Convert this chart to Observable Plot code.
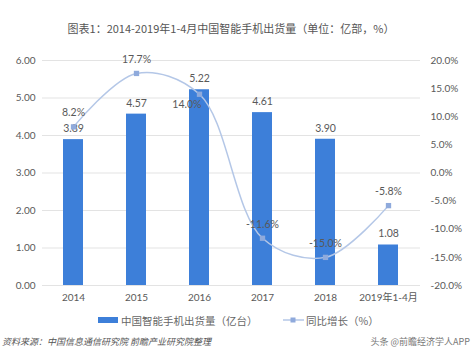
<!DOCTYPE html>
<html>
<head>
<meta charset="utf-8">
<script src="https://cdn.jsdelivr.net/npm/d3@7"></script>
<script src="https://cdn.jsdelivr.net/npm/@observablehq/plot@0.6"></script>
<style>
  html, body { margin: 0; padding: 0; background: #fff; }
  body { width: 476px; height: 363px; position: relative; overflow: hidden;
         font-family: Lato, "Noto Sans CJK SC", sans-serif; color: #595959; }
  #title { position: absolute; left: 0; top: 20px; width: 462px; text-align: center;
           font-size: 11px; color: #555; font-family: "Noto Sans CJK SC", sans-serif; }
  #chart { position: absolute; left: 0; top: 45px; }
  #legend { position: absolute; left: 0; top: 311px; width: 476px; height: 18px; font-size: 10.5px;
            font-family: "Noto Sans CJK SC", sans-serif; color: #666; }
  .lg { position: absolute; top: 0; display: flex; align-items: center; height: 18px; }
  #source { position: absolute; left: 2px; top: 335px; font-size: 9px; font-style: italic;
            color: #555; font-family: "Noto Sans CJK SC", sans-serif; }
  #wm { position: absolute; right: 6px; top: 335px; font-size: 9px; color: #777;
        font-family: "Noto Sans CJK SC", sans-serif; }
</style>
</head>
<body>
<div id="title"></div>
<div id="chart"></div>
<div id="legend">
  <div class="lg" style="left:98px"><span style="display:inline-block;width:20px;height:6px;background:#3d7fd9;margin-right:3px"></span><span id="lg1"></span></div>
  <div class="lg" style="left:283px"><svg width="21" height="10" style="margin-right:2px"><line x1="0" y1="5" x2="21" y2="5" stroke="#b4c7e7" stroke-width="1.5"/><rect x="7.5" y="2.5" width="5" height="5" fill="#8faadc"/></svg><span id="lg2"></span></div>
</div>
<div id="source"></div>
<div id="wm"></div>
<script>
const titleText = "图表1：2014-2019年1-4月中国智能手机出货量（单位：亿部，%）";
const categories = ["2014", "2015", "2016", "2017", "2018", "2019年1-4月"];
const shipments = [3.89, 4.57, 5.22, 4.61, 3.90, 1.08];
const growth = [8.2, 17.7, 14.0, -11.6, -15.0, -5.8];
const leftTicks = [0, 1, 2, 3, 4, 5, 6];
const rightTicks = [-20, -15, -10, -5, 0, 5, 10, 15, 20];
const seriesNames = ["中国智能手机出货量（亿台）", "同比增长（%）"];
const sourceText = "资料来源：中国信息通信研究院 前瞻产业研究院整理";
const watermarkText = "头条 @前瞻经济学人APP";

document.getElementById("title").textContent = titleText;
document.getElementById("lg1").textContent = seriesNames[0];
document.getElementById("lg2").textContent = seriesNames[1];
document.getElementById("source").textContent = sourceText;
document.getElementById("wm").textContent = watermarkText;

// map percent (right axis, -20..20) onto the left axis domain (0..6)
const yMax = 6, pMin = -20, pMax = 20;
const toY = p => (p - pMin) / (pMax - pMin) * yMax;
const fromY = y => y / yMax * (pMax - pMin) + pMin;

const rows = categories.map((c, i) => ({cat: c, val: shipments[i], pct: growth[i], py: toY(growth[i]), i}));

const chart = Plot.plot({
  width: 476,
  height: 262,
  marginTop: 15,
  marginBottom: 22,
  marginLeft: 42,
  marginRight: 56,
  style: {fontFamily: 'Lato, "Noto Sans CJK SC", sans-serif', fontSize: "10px", color: "#595959", background: "white"},
  x: {type: "band", domain: categories, paddingInner: 0.68, paddingOuter: 0.34, label: null},
  y: {domain: [0, yMax], label: null},
  marks: [
    Plot.gridY(leftTicks, {stroke: "#e3e3e3", strokeOpacity: 1}),
    Plot.axisY(leftTicks, {anchor: "left", tickSize: 0, tickPadding: 7, tickFormat: d => d.toFixed(2), label: null}),
    Plot.axisY(rightTicks.map(toY), {anchor: "right", tickSize: 0, tickPadding: 10, textAnchor: "start",
      tickFormat: d => fromY(d).toFixed(1) + "%", label: null}),
    Plot.axisX({tickSize: 0, tickPadding: 8, label: null}),
    Plot.barY(rows, {x: "cat", y: "val", fill: "#3d7fd9"}),
    Plot.text(rows, {x: "cat", y: "val", text: d => d.val.toFixed(2), dy: -11, fill: "#595959", fontSize: 10.5}),
    Plot.line(rows, {x: "cat", y: "py", curve: "catmull-rom", stroke: "#b4c7e7", strokeWidth: 1.5}),
    Plot.dot(rows, {x: "cat", y: "py", symbol: "square", r: 3, fill: "#8faadc", stroke: "none"}),
    Plot.text(rows.filter(d => d.i !== 2), {x: "cat", y: "py", text: d => d.pct.toFixed(1) + "%", dy: -14, fill: "#595959", fontSize: 10.5}),
    Plot.text(rows.filter(d => d.i === 2), {x: "cat", y: "py", text: d => d.pct.toFixed(1) + "%", dy: 10, dx: 2, textAnchor: "end", fill: "#595959", fontSize: 10.5})
  ]
});
document.getElementById("chart").appendChild(chart);
</script>
</body>
</html>
